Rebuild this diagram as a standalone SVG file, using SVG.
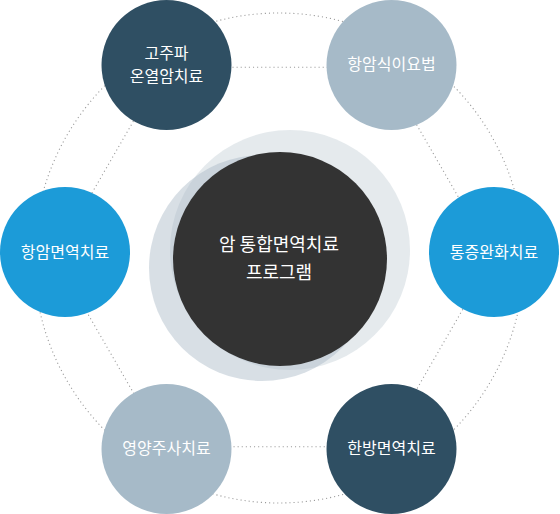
<svg xmlns="http://www.w3.org/2000/svg" width="560" height="514" viewBox="0 0 560 514">
  <style>
    .dot { fill: none; stroke: #9a9a9a; stroke-width: 1.1; stroke-dasharray: 1.1 3; }
    .lbl { font-family: "Noto Sans CJK KR", "Noto Sans", sans-serif; font-size: 16px; fill: #ffffff; text-anchor: middle; }
    .ctr { font-family: "Noto Sans CJK KR", "Noto Sans", sans-serif; font-size: 18px; fill: #ffffff; text-anchor: middle; }
    .navy { fill: #2f4f63; }
    .grey { fill: #a6bac8; }
    .blue { fill: #1c9bd8; }
    .halo { fill: #a9b9c5; }
  </style>
  <rect width="560" height="514" fill="#ffffff"/>
  <g id="connectors">
    <circle class="dot" cx="279" cy="258" r="245"/>
    <polygon class="dot" points="55,257 164.5,67.3 383.5,67.3 493,257 383.5,446.7 164.5,446.7"/>
  </g>
  <g id="center">
    <circle class="halo" cx="290" cy="250" r="120" opacity="0.3"/>
    <circle class="halo" cx="262" cy="268" r="113" opacity="0.45"/>
    <circle cx="280" cy="259" r="107" fill="#333333"/>
    <text class="ctr" x="279" y="251">암 통합면역치료</text>
    <text class="ctr" x="279" y="279">프로그램</text>
  </g>
  <g id="node-rf">
    <circle class="navy" cx="166.5" cy="65" r="65"/>
    <text class="lbl" x="166.5" y="58.5">고주파</text>
    <text class="lbl" x="166.5" y="81.5">온열암치료</text>
  </g>
  <g id="node-diet">
    <circle class="grey" cx="391.5" cy="65" r="65"/>
    <text class="lbl" x="391.5" y="70">항암식이요법</text>
  </g>
  <g id="node-immune">
    <circle class="blue" cx="65" cy="252" r="65"/>
    <text class="lbl" x="65" y="257.5">항암면역치료</text>
  </g>
  <g id="node-pain">
    <circle class="blue" cx="494" cy="252" r="65"/>
    <text class="lbl" x="494" y="257.5">통증완화치료</text>
  </g>
  <g id="node-inject">
    <circle class="grey" cx="166.5" cy="449" r="65"/>
    <text class="lbl" x="166.5" y="454">영양주사치료</text>
  </g>
  <g id="node-herbal">
    <circle class="navy" cx="391.5" cy="449" r="65"/>
    <text class="lbl" x="391.5" y="454">한방면역치료</text>
  </g>
</svg>
